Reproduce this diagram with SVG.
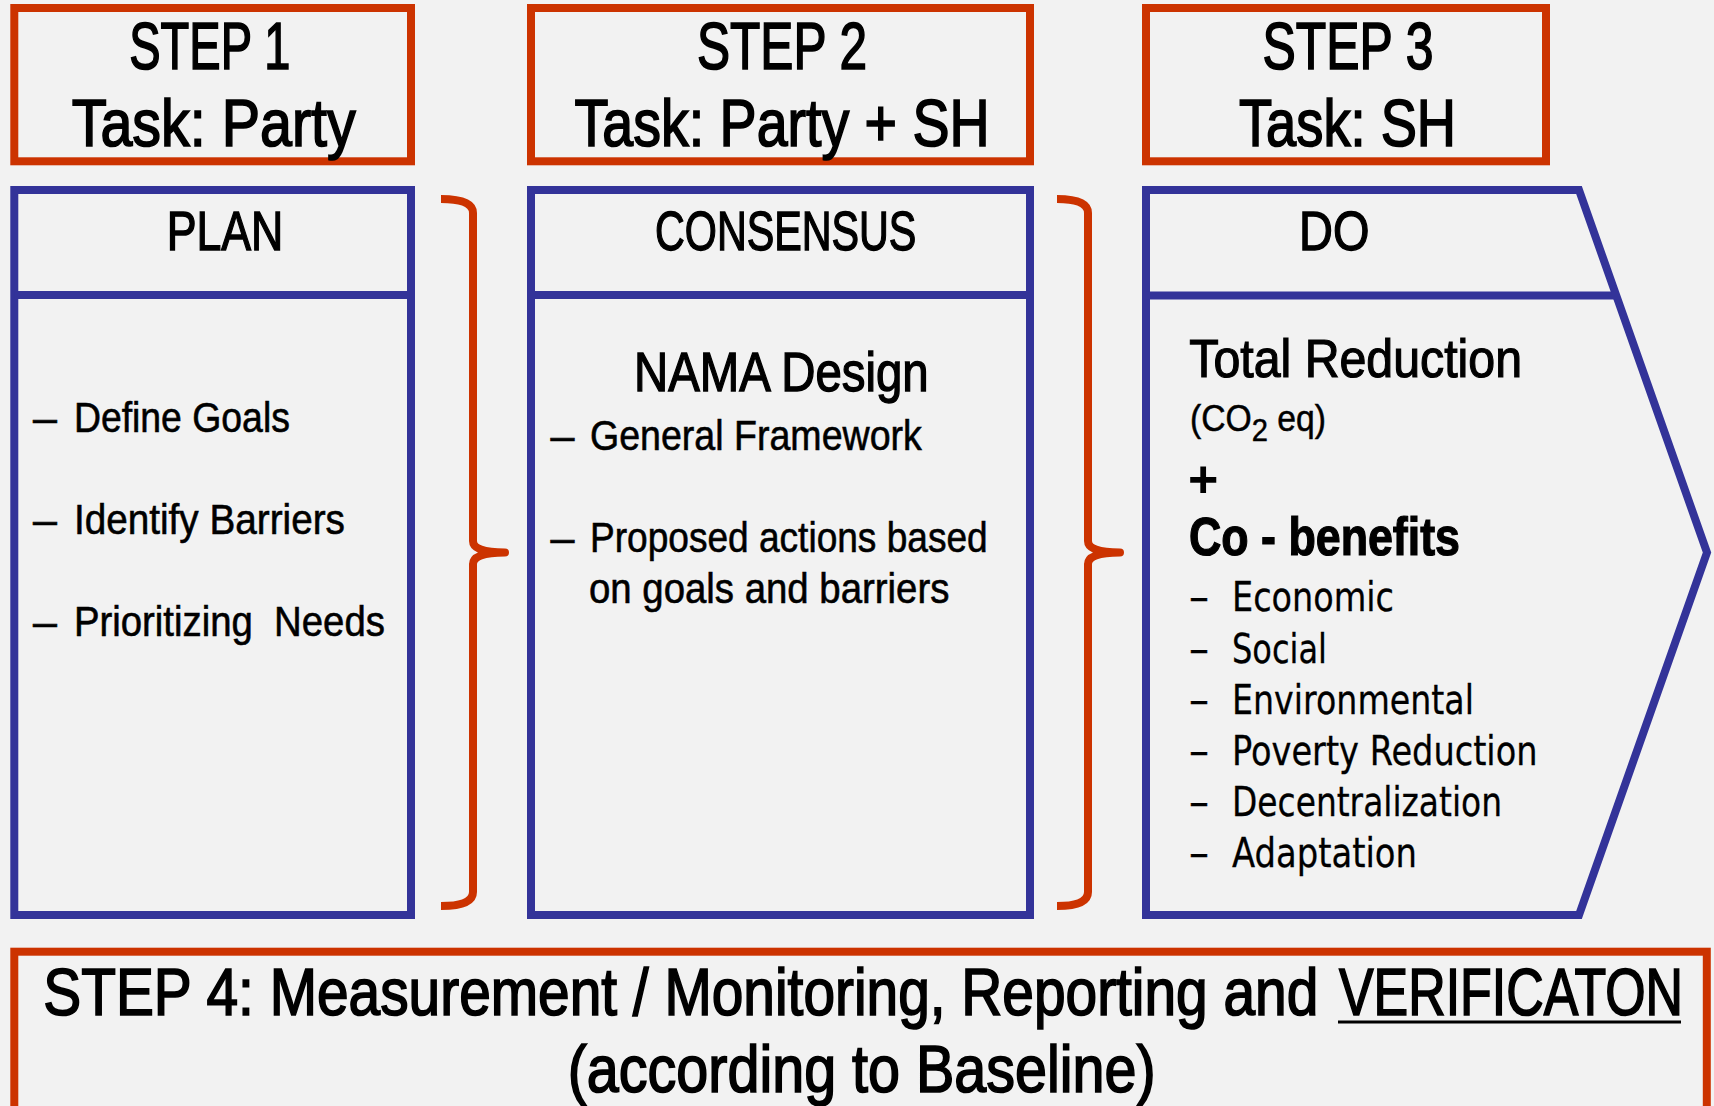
<svg xmlns="http://www.w3.org/2000/svg" width="1714" height="1106" viewBox="0 0 1714 1106">
<style>
.red{fill:none;stroke:#CC3300;stroke-width:8}
.blue{fill:none;stroke:#333399;stroke-width:8}
.brace{fill:none;stroke:#CC3300;stroke-width:8;stroke-linejoin:round}
text{font-family:"Liberation Sans",Arial,sans-serif;fill:#000}
.hd{font-size:67px;stroke:#000;stroke-width:1.7px}
.ti{font-size:56px;stroke:#000;stroke-width:1.4px}
.li{font-size:43px;stroke:#000;stroke-width:0.6px}
.big{font-size:53px;stroke:#000;stroke-width:1.2px}
.bn{font-family:"DejaVu Sans","Liberation Sans",sans-serif;font-size:40px;stroke:#000;stroke-width:0.3px}
.b4{font-size:66px;stroke:#000;stroke-width:1.7px}
</style>
<rect x="0" y="0" width="1714" height="1106" fill="#F2F2F2"/>

<g id="step1">
<rect class="red" x="14.3" y="8" width="396.7" height="153.3"/>
<text class="hd" x="129.3" y="69" textLength="161" lengthAdjust="spacingAndGlyphs">STEP 1</text>
<text class="hd" x="71.7" y="145.7" textLength="284" lengthAdjust="spacingAndGlyphs">Task: Party</text>
</g>
<g id="step2">
<rect class="red" x="531" y="8" width="499" height="153.3"/>
<text class="hd" x="697" y="69" textLength="170" lengthAdjust="spacingAndGlyphs">STEP 2</text>
<text class="hd" x="574.6" y="145.7" textLength="415" lengthAdjust="spacingAndGlyphs">Task: Party + SH</text>
</g>
<g id="step3">
<rect class="red" x="1146" y="8" width="400" height="153.3"/>
<text class="hd" x="1262.5" y="69" textLength="171" lengthAdjust="spacingAndGlyphs">STEP 3</text>
<text class="hd" x="1239" y="145.7" textLength="217" lengthAdjust="spacingAndGlyphs">Task: SH</text>
</g>

<g id="plan">
<rect class="blue" x="14.3" y="190" width="396.7" height="725"/>
<line class="blue" x1="14.3" y1="295" x2="411" y2="295"/>
<text class="ti" x="166.7" y="250" textLength="116.7" lengthAdjust="spacingAndGlyphs">PLAN</text>
<text class="li" x="33" y="431.7">–</text>
<text class="li" x="73.9" y="431.7" textLength="216" lengthAdjust="spacingAndGlyphs">Define Goals</text>
<text class="li" x="33" y="534">–</text>
<text class="li" x="73.9" y="534" textLength="271" lengthAdjust="spacingAndGlyphs">Identify Barriers</text>
<text class="li" x="33" y="636">–</text>
<text class="li" x="73.9" y="636" textLength="311" lengthAdjust="spacingAndGlyphs" xml:space="preserve">Prioritizing  Needs</text>
</g>

<g id="consensus">
<rect class="blue" x="531" y="190" width="499" height="725"/>
<line class="blue" x1="531" y1="295" x2="1030" y2="295"/>
<text class="ti" x="655" y="250" textLength="261.4" lengthAdjust="spacingAndGlyphs">CONSENSUS</text>
<text class="ti" x="634" y="391" font-size="55" textLength="294.7" lengthAdjust="spacingAndGlyphs">NAMA Design</text>
<text class="li" x="550.6" y="450">–</text>
<text class="li" x="590" y="450" textLength="331.8" lengthAdjust="spacingAndGlyphs">General Framework</text>
<text class="li" x="550.6" y="552">–</text>
<text class="li" x="590" y="552" textLength="397.7" lengthAdjust="spacingAndGlyphs">Proposed actions based</text>
<text class="li" x="589" y="602.5" textLength="360.4" lengthAdjust="spacingAndGlyphs">on goals and barriers</text>
</g>

<g id="do">
<polygon class="blue" points="1146,190 1579,190 1707,552.5 1579,915 1146,915"/>
<line class="blue" x1="1146" y1="295.5" x2="1614" y2="295.5"/>
<text class="ti" x="1299" y="250" textLength="70.4" lengthAdjust="spacingAndGlyphs">DO</text>
<text class="big" x="1189.3" y="377" font-size="52" textLength="332.7" lengthAdjust="spacingAndGlyphs">Total Reduction</text>
<text x="1190" y="431" font-size="37" stroke="#000" stroke-width="0.5" textLength="136" lengthAdjust="spacingAndGlyphs">(CO<tspan font-size="32" dy="10">2</tspan><tspan dy="-10"> eq)</tspan></text>
<text x="1188" y="497" font-size="52" font-weight="bold">+</text>
<text class="big" x="1189" y="555" font-weight="bold" stroke-width="0.6" textLength="271" lengthAdjust="spacingAndGlyphs">Co - benefits</text>
<text class="bn" x="1189" y="611">–</text>
<text class="bn" x="1232" y="611" textLength="162" lengthAdjust="spacingAndGlyphs">Economic</text>
<text class="bn" x="1189" y="662.5">–</text>
<text class="bn" x="1232" y="662.5" textLength="95" lengthAdjust="spacingAndGlyphs">Social</text>
<text class="bn" x="1189" y="713.5">–</text>
<text class="bn" x="1232" y="713.5" textLength="242" lengthAdjust="spacingAndGlyphs">Environmental</text>
<text class="bn" x="1189" y="764.5">–</text>
<text class="bn" x="1232" y="764.5" textLength="305.5" lengthAdjust="spacingAndGlyphs">Poverty Reduction</text>
<text class="bn" x="1189" y="816">–</text>
<text class="bn" x="1232" y="816" textLength="270" lengthAdjust="spacingAndGlyphs">Decentralization</text>
<text class="bn" x="1189" y="867">–</text>
<text class="bn" x="1232" y="867" textLength="185" lengthAdjust="spacingAndGlyphs">Adaptation</text>
</g>

<g id="step4">
<rect class="red" x="14.3" y="951.7" width="1692.5" height="220"/>
<text class="b4" x="43.3" y="1015" textLength="1275" lengthAdjust="spacingAndGlyphs">STEP 4: Measurement / Monitoring, Reporting and</text>
<text class="b4" x="1339" y="1015" textLength="344" lengthAdjust="spacingAndGlyphs">VERIFICATON</text>
<line x1="1338" y1="1022" x2="1681" y2="1022" stroke="#000" stroke-width="3"/>
<text class="b4" x="567.7" y="1091.7" textLength="588" lengthAdjust="spacingAndGlyphs">(according to Baseline)</text>
</g>

<g id="connectors">
<path id="bracket1" class="brace" d="M441,199 Q473,199 473,213 V541 Q473,552.5 505,552.5 Q473,552.5 473,564 V892 Q473,906 441,906"/>
<path id="bracket2" class="brace" d="M1057,199 Q1088,199 1088,213 V541 Q1088,552.5 1120,552.5 Q1088,552.5 1088,564 V892 Q1088,906 1057,906"/>
</g>
</svg>
